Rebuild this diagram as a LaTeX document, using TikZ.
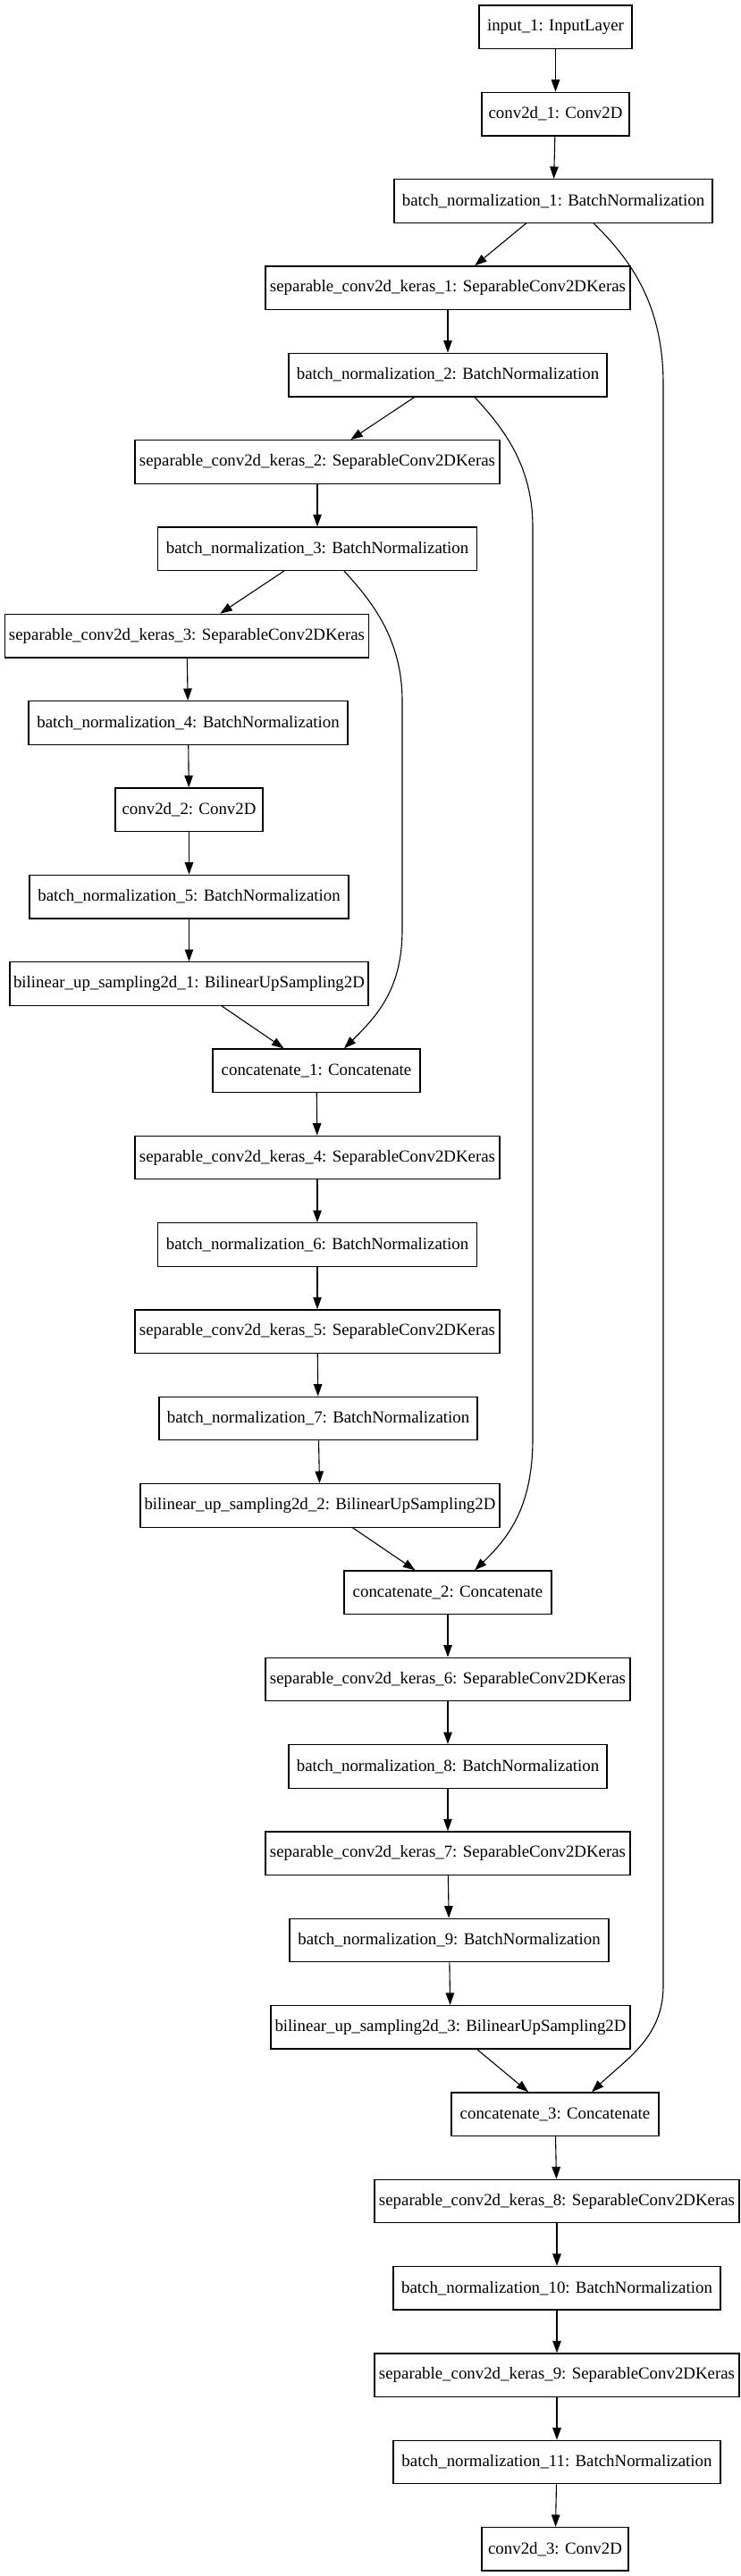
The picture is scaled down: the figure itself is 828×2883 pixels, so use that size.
\documentclass[tikz,border=0pt]{standalone}
\usepackage{fontspec}
\setmainfont{Liberation Serif}
\usetikzlibrary{arrows.meta,calc}
\tikzset{
  layer/.style={draw=black, line width=1.3pt, rectangle, minimum height=48.5pt, inner sep=0pt, fill=white, font=\fontsize{18.86}{22}\selectfont},
  edge/.style={line width=1.1pt, -{Triangle[length=13.5pt,width=9.5pt]}},
}
\begin{document}
\begin{tikzpicture}[x=1pt,y=-1pt]
\useasboundingbox (0,0) rectangle (828,2883);
\node[layer, minimum width=171] (in1) at (621.5,30.25) {input\_1: InputLayer};
\node[layer, minimum width=165] (cv1) at (621.5,127.6) {conv2d\_1: Conv2D};
\node[layer, minimum width=356] (bn1) at (619,224.9) {batch\_normalization\_1: BatchNormalization};
\node[layer, minimum width=408] (sp1) at (501,322.2) {separable\_conv2d\_keras\_1: SeparableConv2DKeras};
\node[layer, minimum width=356] (bn2) at (501,419.6) {batch\_normalization\_2: BatchNormalization};
\node[layer, minimum width=408] (sp2) at (355,516.9) {separable\_conv2d\_keras\_2: SeparableConv2DKeras};
\node[layer, minimum width=357] (bn3) at (355,614.2) {batch\_normalization\_3: BatchNormalization};
\node[layer, minimum width=407] (sp3) at (209,711.6) {separable\_conv2d\_keras\_3: SeparableConv2DKeras};
\node[layer, minimum width=357] (bn4) at (210.5,808.9) {batch\_normalization\_4: BatchNormalization};
\node[layer, minimum width=165] (cv2) at (211.5,906.2) {conv2d\_2: Conv2D};
\node[layer, minimum width=357] (bn5) at (211.5,1003.6) {batch\_normalization\_5: BatchNormalization};
\node[layer, minimum width=401] (bl1) at (211.5,1100.9) {bilinear\_up\_sampling2d\_1: BilinearUpSampling2D};
\node[layer, minimum width=232] (ct1) at (354,1198.2) {concatenate\_1: Concatenate};
\node[layer, minimum width=408] (sp4) at (355,1295.5) {separable\_conv2d\_keras\_4: SeparableConv2DKeras};
\node[layer, minimum width=357] (bn6) at (355,1392.9) {batch\_normalization\_6: BatchNormalization};
\node[layer, minimum width=408] (sp5) at (355,1490.2) {separable\_conv2d\_keras\_5: SeparableConv2DKeras};
\node[layer, minimum width=356] (bn7) at (356,1587.5) {batch\_normalization\_7: BatchNormalization};
\node[layer, minimum width=402] (bl2) at (358,1684.9) {bilinear\_up\_sampling2d\_2: BilinearUpSampling2D};
\node[layer, minimum width=232] (ct2) at (501,1782.2) {concatenate\_2: Concatenate};
\node[layer, minimum width=408] (sp6) at (501,1879.5) {separable\_conv2d\_keras\_6: SeparableConv2DKeras};
\node[layer, minimum width=356] (bn8) at (501,1976.9) {batch\_normalization\_8: BatchNormalization};
\node[layer, minimum width=408] (sp7) at (501,2074.2) {separable\_conv2d\_keras\_7: SeparableConv2DKeras};
\node[layer, minimum width=357] (bn9) at (502.5,2171.5) {batch\_normalization\_9: BatchNormalization};
\node[layer, minimum width=402] (bl3) at (504,2268.8) {bilinear\_up\_sampling2d\_3: BilinearUpSampling2D};
\node[layer, minimum width=232] (ct3) at (621,2366.2) {concatenate\_3: Concatenate};
\node[layer, minimum width=408] (sp8) at (623,2463.5) {separable\_conv2d\_keras\_8: SeparableConv2DKeras};
\node[layer, minimum width=366] (bn10) at (623,2560.8) {batch\_normalization\_10: BatchNormalization};
\node[layer, minimum width=408] (sp9) at (623,2658.2) {separable\_conv2d\_keras\_9: SeparableConv2DKeras};
\node[layer, minimum width=366] (bn11) at (623,2755.5) {batch\_normalization\_11: BatchNormalization};
\node[layer, minimum width=164] (cv3) at (621,2852.8) {conv2d\_3: Conv2D};

\foreach \a/\b in {in1/cv1, cv1/bn1, bn1/sp1, sp1/bn2, bn2/sp2, sp2/bn3, bn3/sp3, sp3/bn4, bn4/cv2, cv2/bn5, bn5/bl1, bl1/ct1, ct1/sp4, sp4/bn6, bn6/sp5, sp5/bn7, bn7/bl2, bl2/ct2, ct2/sp6, sp6/bn8, bn8/sp7, sp7/bn9, bn9/bl3, bl3/ct3, ct3/sp8, sp8/bn10, bn10/sp9, sp9/bn11, bn11/cv3}
  \draw[edge] (\a) -- (\b);

\draw[edge] ($(bn1.south)+(45,0)$) .. controls (705,290) and (742,340) .. (742,430)
  -- (742,2223) .. controls (742,2280) and (700,2305) .. ($(ct3.north)+(41,0)$);
\draw[edge] ($(bn2.south)+(30,0)$) .. controls (562,478) and (596,520) .. (596,590)
  -- (596,1610) .. controls (596,1685) and (570,1720) .. ($(ct2.north)+(30,0)$);
\draw[edge] ($(bn3.south)+(30,0)$) .. controls (416,673) and (450,715) .. (450,785)
  -- (450,1040) .. controls (450,1105) and (424,1135) .. ($(ct1.north)+(31,0)$);
\end{tikzpicture}
\end{document}
